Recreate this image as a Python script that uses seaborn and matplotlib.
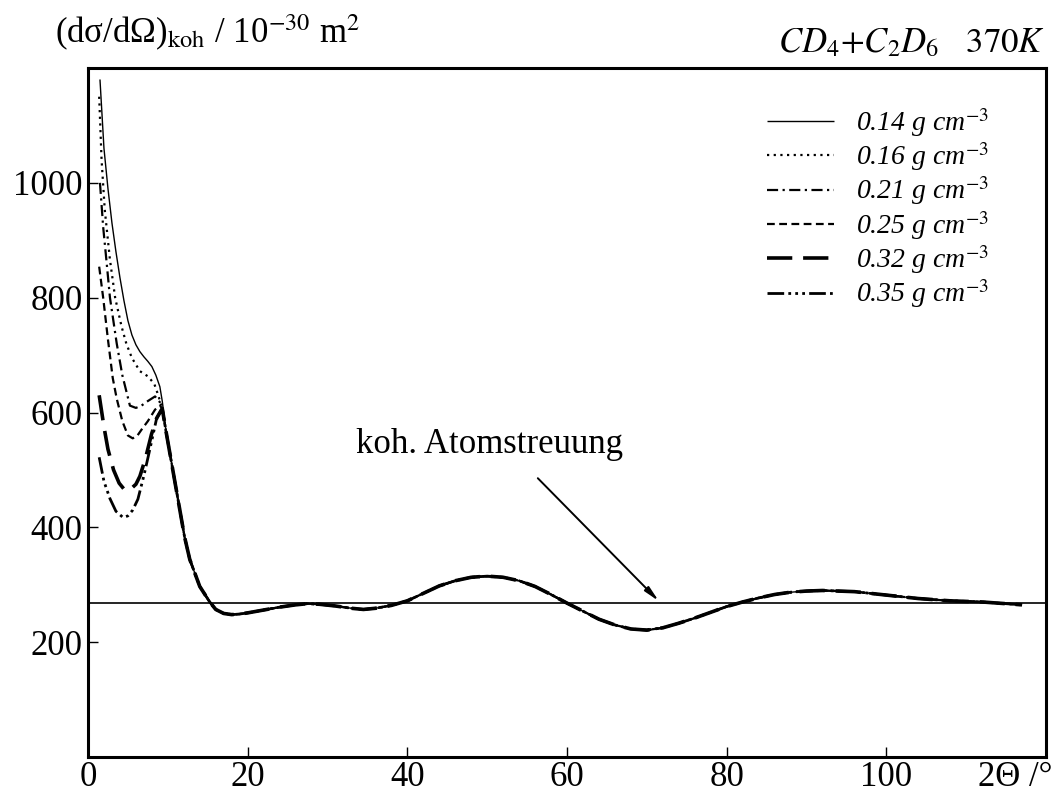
import numpy as np
import pandas as pd
import matplotlib
matplotlib.use("Agg")
import matplotlib.pyplot as plt
import seaborn as sns

# --- Daten ---
dichten = ["0.14", "0.16", "0.21", "0.25", "0.32", "0.35"]

# Anfangsbereich (2Theta < ~9.5) – je Dichte verschieden
kopf_x = {
    "0.14": [1.5, 2.0, 2.5, 3.0, 3.5, 4.0, 4.5, 5.0, 5.5, 6.0, 6.5, 7.0, 7.5, 8.0, 8.5, 9.0, 9.3],
    "0.16": [1.4, 1.7, 2.1, 2.75, 3.4, 4.2, 4.8, 5.5, 6.5, 7.5, 8.3, 8.8, 9.3],
    "0.21": [1.5, 1.9, 2.3, 2.75, 3.6, 4.3, 5.25, 6.0, 6.7, 7.5, 8.4, 9.0, 9.3],
    "0.25": [1.4, 1.9, 2.5, 3.1, 3.6, 4.3, 5.0, 5.6, 6.2, 6.7, 7.5, 8.4, 9.0, 9.3],
    "0.32": [1.4, 2.0, 2.5, 3.2, 3.9, 4.6, 5.3, 6.0, 6.5, 7.2, 7.95, 8.6, 9.3],
    "0.35": [1.4, 2.0, 2.75, 3.5, 4.4, 5.0, 5.6, 6.25, 7.0, 7.75, 8.6, 9.3],
}
kopf_y = {
    "0.14": [1180, 1060, 990, 930, 880, 835, 795, 760, 735, 718, 706, 697, 689, 680, 665, 645, 620],
    "0.16": [1150, 1040, 953, 866, 800, 750, 720, 695, 672, 663, 650, 630, 607],
    "0.21": [1000, 923, 866, 800, 720, 665, 612, 608, 612, 620, 628, 618, 607],
    "0.25": [854, 800, 727, 660, 624, 585, 560, 555, 560, 570, 585, 605, 612, 607],
    "0.32": [630, 575, 536, 500, 477, 465, 466, 475, 489, 520, 562, 590, 607],
    "0.35": [522, 480, 450, 428, 417, 420, 430, 449, 490, 536, 590, 607],
}

# gemeinsamer Verlauf ab ca. 10 Grad
rest_x = [9.8, 10.9, 12.1, 12.75, 14, 15.25, 16, 17, 18, 19, 20, 22, 24, 26, 27.5, 29, 31, 33,
          34.5, 36, 38, 40, 42, 44, 46, 48, 50, 52, 54, 56, 58, 60, 62, 64, 66, 68, 70, 72,
          74, 76, 78, 80, 82, 84, 86, 88, 90, 92, 94, 96, 98, 100, 102, 104, 106, 108, 110,
          112, 114, 116, 117]
rest_y = [565, 478, 383, 344, 297, 270, 257, 250, 248, 249, 251, 256, 261, 265, 267, 266, 263, 259,
          257, 259, 264, 272, 285, 298, 307, 313, 315, 313, 307, 297, 283, 268, 254, 240, 230, 223, 221, 225,
          233, 242, 252, 262, 270, 277, 283, 287, 289, 290, 289, 288, 285, 282, 279, 276, 274, 272, 271,
          270, 268, 266, 265]

atom_streuung = 268

stile = {
    "0.14": ((0, ()), 1.0),
    "0.16": ((0, (1, 2)), 1.6),
    "0.21": ((0, (5, 2, 1, 2)), 1.6),
    "0.25": ((0, (3.5, 2)), 1.6),
    "0.32": ((0, (7, 3)), 2.6),
    "0.35": ((0, (6, 1.5, 1, 1.5, 1, 1.5, 1, 1.5)), 2.0),
}

sns.set_style("ticks")
plt.rcParams["font.family"] = ["Liberation Serif", "DejaVu Serif"]
plt.rcParams["mathtext.fontset"] = "stix"
plt.rcParams["text.color"] = "black"
plt.rcParams["xtick.labelcolor"] = "black"
plt.rcParams["ytick.labelcolor"] = "black"

fig = plt.figure(figsize=(10.58, 7.99), dpi=100)
ax = fig.add_axes([88 / 1058, 1 - 757 / 799, (1046 - 88) / 1058, (757 - 68) / 799])

for d in dichten:
    df = pd.DataFrame({"x": kopf_x[d] + rest_x, "y": kopf_y[d] + rest_y})
    ls, lw = stile[d]
    sns.lineplot(data=df, x="x", y="y", ax=ax, color="black", linestyle=ls, linewidth=lw,
                 label=d + " g cm$^{-3}$", sort=False)

ax.axhline(atom_streuung, color="black", lw=1.2)

ax.annotate("", xy=(71.75, atom_streuung), xytext=(56.1, 489),
            arrowprops=dict(arrowstyle="-|>,head_length=0.9,head_width=0.18", color="black", lw=1.4))
ax.text(33.6, 544, "koh. Atomstreuung", fontsize=25, va="center", ha="left", color="black")

ax.set_xlim(0, 120)
ax.set_ylim(0, 1200)
ax.set_xticks([0, 20, 40, 60, 80, 100])
ax.set_yticks([200, 400, 600, 800, 1000])
ax.tick_params(axis="both", direction="in", length=7, width=1, labelsize=25, color="black",
               labelcolor="black")
ax.tick_params(axis="x", pad=3)
ax.tick_params(axis="y", pad=4)
for s in ax.spines.values():
    s.set_linewidth(2.2)
    s.set_color("black")
ax.set_xlabel("")
ax.set_ylabel("")

fig.text(1053 / 1058, 1 - 777 / 799, "2Θ /°", fontsize=25, ha="right", va="center")
fig.text(55 / 1058, 1 - 43 / 799, r"(dσ/dΩ)$_{\mathrm{koh}}$ / 10$^{-30}$ m$^{2}$", fontsize=25,
         ha="left", va="baseline")
fig.text(1045 / 1058, 1 - 52 / 799, r"$\mathit{CD_4{+}C_2D_6}$   $\mathit{370K}$", fontsize=25,
         ha="right", va="baseline")

leg = ax.legend(loc="upper left", bbox_to_anchor=((767 - 88) / 958, 1 - (106 - 68) / 689),
                frameon=False, handlelength=2.4, handletextpad=0.8, labelspacing=0.05,
                borderpad=0, borderaxespad=0, prop={"style": "italic", "size": 20})
for line in leg.get_lines():
    line.set_color("black")

fig.savefig("out.png", dpi=100)
